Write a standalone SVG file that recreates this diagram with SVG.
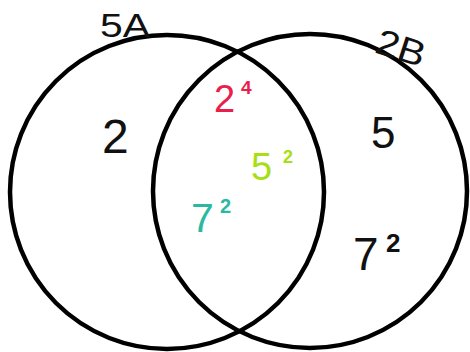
<svg xmlns="http://www.w3.org/2000/svg" width="470" height="352" viewBox="0 0 470 352">
<style>
.ring{fill:none;stroke:#000;stroke-width:4.5}
text{font-family:"Liberation Sans","DejaVu Sans",sans-serif}
.sup{font-weight:bold}
.k{fill:#111}
.r{fill:#e8204a}
.g{fill:#a6e012}
.t{fill:#2bb8a2}
</style>
<rect width="470" height="352" fill="#fff"/>
<g id="setA">
<circle class="ring" cx="167" cy="192" r="157"/>
<text class="k" x="100" y="37" font-size="34" textLength="50" lengthAdjust="spacingAndGlyphs">5A</text>
<text class="k" x="102" y="153" font-size="48">2</text>
</g>
<g id="setB">
<circle class="ring" cx="310" cy="191" r="157"/>
<text class="k" x="376" y="60" font-size="36" transform="rotate(18 400 48)" textLength="50" lengthAdjust="spacingAndGlyphs">2B</text>
<text class="k" x="371" y="148" font-size="44">5</text>
<text class="k" x="353" y="270" font-size="46">7</text>
<text class="k sup" x="386" y="252" font-size="26">2</text>
</g>
<g id="intersection">
<text class="r" x="214" y="112" font-size="38">2</text>
<text class="r sup" x="241" y="94" font-size="19">4</text>
<text class="g" x="251" y="180" font-size="38">5</text>
<text class="g sup" x="283" y="163" font-size="18">2</text>
<text class="t" x="191" y="232" font-size="41">7</text>
<text class="t sup" x="220" y="213" font-size="20">2</text>
</g>
</svg>
